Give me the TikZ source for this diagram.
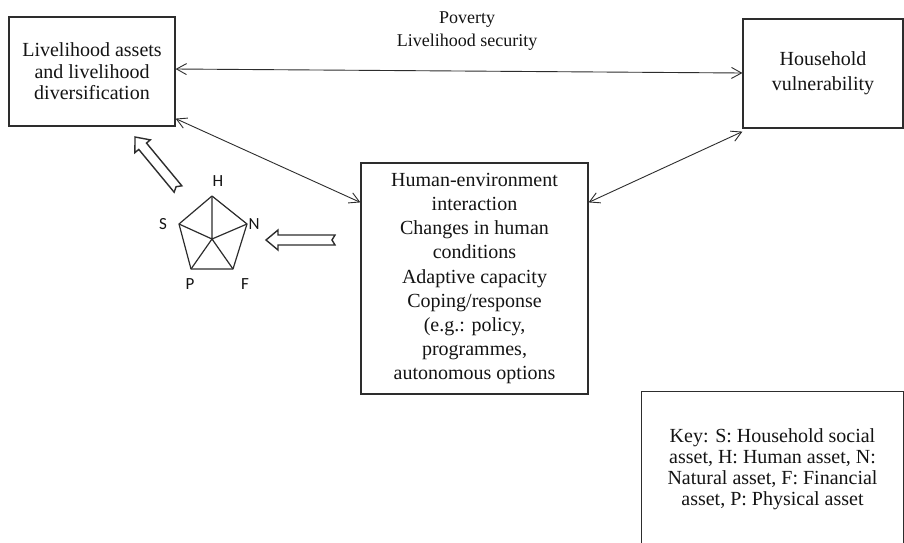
\documentclass[tikz,border=0pt]{standalone}
\usepackage{fontspec}
\setmainfont{Liberation Serif}
\newfontfamily\serifont{Liberation Serif}
\newfontfamily\lblfont{Carlito}
\usetikzlibrary{arrows.meta}
\definecolor{ink}{RGB}{20,20,20}
\definecolor{edge}{RGB}{45,45,45}
\begin{document}
\begin{tikzpicture}[x=1pt,y=-1pt,
  box/.style={draw=edge, line width=1.2pt, align=center, inner sep=0pt, text=ink,
    font=\serifont\fontsize{20}{21.5}\selectfont},
  conn/.style={draw=edge, line width=0.9pt,
    {Straight Barb[length=10pt,width=11pt]}-{Straight Barb[length=10pt,width=11pt]}},
  penta/.style={draw=edge, line width=1.2pt, line join=round},
  vlabel/.style={text=ink, font=\lblfont\fontsize{17}{17}\selectfont, inner sep=0pt},
  pics/blockarr/.style={code={
    \draw[draw=edge, line width=1.4pt, fill=white, line join=miter]
      (0,5) -- ({#1-12},5) -- ({#1-12},10) -- (#1,0) -- ({#1-12},-10)
      -- ({#1-12},-5) -- (0,-5) -- (3,0) -- cycle;}}
]
\useasboundingbox (0,0) rectangle (904,542);
\clip (0,0) rectangle (904,542);
\fill[white] (0,0) rectangle (904,542);

% boxes
\node[box, minimum width=166pt, minimum height=109pt] (L) at (92,71.5)
  {Livelihood assets\\and livelihood\\diversification};
\node[box, minimum width=160pt, minimum height=109pt,
  font=\serifont\fontsize{20}{25}\selectfont] (R) at (823,73.5)
  {Household\\vulnerability};
\node[box, minimum width=227pt, minimum height=231pt,
  font=\serifont\fontsize{20}{24.2}\selectfont] (C) at (474.5,278.5)
  {Human-environment\\interaction\\Changes in human\\conditions\\Adaptive capacity\\Coping/response\\(e.g.: policy,\\programmes,\\autonomous options};
\node[box, draw=none, minimum width=261pt, minimum height=154pt,
  font=\serifont\fontsize{20}{21}\selectfont] (K) at (772.5,469)
  {Key: S: Household social\\asset, H: Human asset, N:\\Natural asset, F: Financial\\asset, P: Physical asset};
\draw[draw=edge, line width=1.2pt] (K.south west) -- (K.north west)
  -- (K.north east) -- (K.south east);

% top label
\node[align=center, text=ink, inner sep=0pt, font=\serifont\fontsize{18}{23}\selectfont]
  (pov) at (467,31.5) {Poverty\\Livelihood security};

% connectors
\draw[conn] ([yshift=2.5pt]L.east) -- ([yshift=0.5pt]R.west);
\draw[conn] ([yshift=8pt]L.south east) -- ([yshift=-40pt]C.north west);
\draw[conn] ([yshift=-40pt]C.north east) -- ([yshift=-3pt]R.south west);

% pentagon
\coordinate (H) at (212,196);
\coordinate (N) at (247,224);
\coordinate (F) at (233,269);
\coordinate (P) at (191,269);
\coordinate (S) at (179,224);
\coordinate (O) at (212,239);
\draw[penta] (H) -- (N) -- (F) -- (P) -- (S) -- cycle;
\draw[penta] (O) -- (H) (O) -- (N) (O) -- (F) (O) -- (P) (O) -- (S);
\node[vlabel] (lH) at (218,181) {H};
\node[vlabel] (lS) at (163,224) {S};
\node[vlabel] (lN) at (254,224) {N};
\node[vlabel] (lP) at (190,284) {P};
\node[vlabel] (lF) at (245,284) {F};

% block arrows
\coordinate (bt1) at (335,240);
\coordinate (bt2) at (178,189);
\pic[rotate=180] at (bt1) {blockarr=69};
\pic[rotate=129.6] at (bt2) {blockarr=67.5};
\end{tikzpicture}
\end{document}
